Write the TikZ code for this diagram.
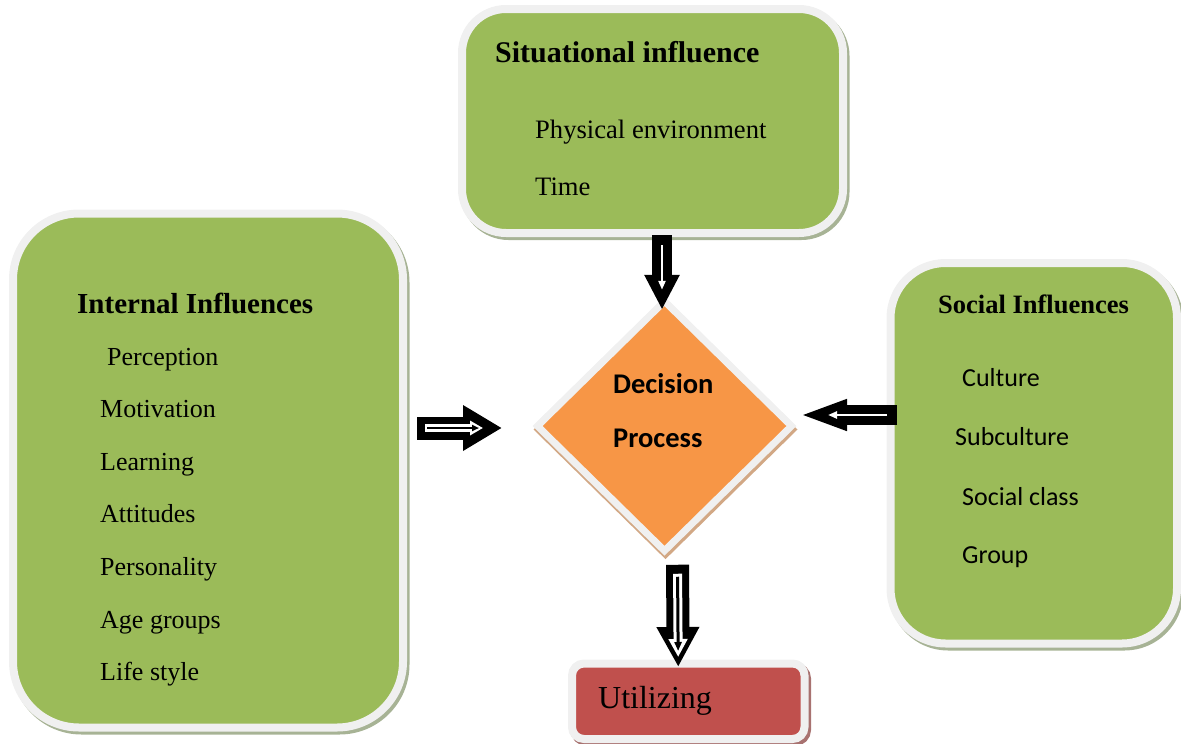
\documentclass[tikz,border=0pt]{standalone}
\usepackage{fontspec}
\setmainfont{Liberation Serif}
\newfontfamily\calibri{Carlito}
\usetikzlibrary{shapes.geometric,shadows,arrows.meta,calc}
\definecolor{boxgreen}{HTML}{9BBB59}
\definecolor{bordergray}{HTML}{F0F0F0}
\definecolor{shadowgreen}{HTML}{A7B395}
\definecolor{decorange}{HTML}{F79646}
\definecolor{shadowtan}{HTML}{D2A885}
\definecolor{utilred}{HTML}{C0504D}
\definecolor{shadowred}{HTML}{A87270}
\begin{document}
\begin{tikzpicture}[x=1pt,y=-1pt,
  gbox/.style={draw=bordergray, line width=8pt, fill=boxgreen, outer sep=0pt, inner sep=0pt,
    drop shadow={shadow xshift=2.5pt, shadow yshift=-3pt, fill=shadowgreen, draw=shadowgreen, line width=8pt, opacity=1}},
  dbox/.style={shape=diamond, draw=bordergray, line width=7pt, fill=decorange, outer sep=0pt, inner sep=0pt,
    drop shadow={shadow xshift=1pt, shadow yshift=-3.5pt, fill=shadowtan, draw=shadowtan, line width=7pt, opacity=1}},
  rbox/.style={draw=bordergray, line width=8pt, fill=utilred, outer sep=0pt, inner sep=0pt,
    drop shadow={shadow xshift=2.5pt, shadow yshift=-3pt, fill=shadowred, draw=shadowred, line width=8pt, opacity=1}},
  title/.style={anchor=base west, inner sep=0pt, font=\bfseries\fontsize{29}{32}\selectfont},
  item/.style={anchor=base west, inner sep=0pt, font=\fontsize{26}{30}\selectfont},
  citem/.style={anchor=base west, inner sep=0pt, font=\calibri\fontsize{26}{30}\selectfont},
  blk/.style n args={3}{draw=black, line width=#1, -{Triangle[width=#2, length=#3]}},
  wht/.style n args={3}{draw=white, line width=#1, -{Triangle[width=#2, length=#3]}},
]
\useasboundingbox (0,0) rectangle (1181,744);

% boxes
\node[gbox, rounded corners=44pt, minimum width=381pt, minimum height=224pt] (sit) at (652.5,121) {};
\node[gbox, rounded corners=66pt, minimum width=390pt, minimum height=514pt] (int) at (208,470.5) {};
\node[gbox, rounded corners=55pt, minimum width=286.5pt, minimum height=380.5pt] (soc) at (1033.75,453.25) {};
\node[dbox, minimum width=254pt, minimum height=249.5pt] (dec) at (664.5,426) {};
\node[rbox, rounded corners=12pt, minimum width=232.5pt, minimum height=75.5pt] (util) at (688.25,701.25) {};

% texts
\node[title, font=\bfseries\fontsize{30}{33}\selectfont] (sitT) at (495,62) {Situational influence};
\node[item, font=\fontsize{26.6}{30}\selectfont] (sit1) at (535,138) {Physical environment};
\node[item, font=\fontsize{26.6}{30}\selectfont] (sit2) at (535,195) {Time};

\node[title] (intT) at (77,313) {Internal Influences};
\node[item] (int1) at (107,365) {Perception};
\node[item] (int2) at (100,417) {Motivation};
\node[item] (int3) at (100,470) {Learning};
\node[item] (int4) at (100,522) {Attitudes};
\node[item] (int5) at (100,575) {Personality};
\node[item] (int6) at (100,628) {Age groups};
\node[item] (int7) at (100,680) {Life style};

\node[title, font=\bfseries\fontsize{26.5}{30}\selectfont] (socT) at (938,313) {Social Influences};
\node[citem] (soc1) at (962,386) {Culture};
\node[citem] (soc2) at (955,445) {Subculture};
\node[citem] (soc3) at (962,505) {Social class};
\node[citem] (soc4) at (962,563) {Group};

\node[anchor=base west, inner sep=0pt, font=\calibri\bfseries\fontsize{28.5}{32}\selectfont] (decT1) at (613,393) {Decision};
\node[anchor=base west, inner sep=0pt, font=\calibri\bfseries\fontsize{28.5}{32}\selectfont] (decT2) at (613,447) {Process};

\node[anchor=base west, inner sep=0pt, font=\fontsize{32}{36}\selectfont] (utilT) at (598,708) {Utilizing};

% connector end points
\coordinate (a1s) at ([xshift=-2.5pt,yshift=-2pt]dec.north |- sit.south);
\coordinate (a1e) at ([xshift=-2.5pt,yshift=-8.5pt]dec.north);
\coordinate (a2s) at ([xshift=14pt,yshift=-2pt]int.east |- dec.west);
\coordinate (a2e) at ([xshift=-35.5pt,yshift=-2pt]dec.west);
\coordinate (a3s) at ([xshift=6.5pt,yshift=11pt]soc.west |- dec.east);
\coordinate (a3e) at ([xshift=7.5pt,yshift=11pt]dec.east);
\coordinate (a4s) at ([xshift=13pt,yshift=-14pt]dec.south);
\coordinate (a4e) at ([xshift=-10pt,yshift=-3.5pt]util.north);

% arrow 1: situational -> decision
\draw[blk={20pt}{33pt}{35pt}] (a1s) -- (a1e);
\draw[wht={2.5pt}{7pt}{9pt}, shorten <=10pt, shorten >=20pt] (a1s) -- (a1e);
% arrow 2: internal -> decision
\draw[blk={23pt}{43pt}{39pt}] (a2s) -- (a2e);
\draw[wht={8pt}{14pt}{13pt}, shorten <=8pt, shorten >=19pt] (a2s) -- (a2e);
\draw[blk={2.5pt}{6pt}{7pt}, shorten <=10pt, shorten >=23pt] (a2s) -- (a2e);
% arrow 3: social -> decision
\draw[blk={20pt}{28pt}{48pt}] (a3s) -- (a3e);
\draw[wht={2.5pt}{7pt}{9pt}, shorten <=10pt, shorten >=29pt] (a3s) -- (a3e);
% arrow 4: decision -> utilizing
\draw[blk={23pt}{40pt}{40pt}] (a4s) -- (a4e);
\draw[wht={9pt}{18pt}{18pt}, shorten <=9pt, shorten >=10pt] (a4s) -- (a4e);
\draw[blk={3pt}{7pt}{9pt}, shorten <=12pt, shorten >=16pt] (a4s) -- (a4e);
\end{tikzpicture}
\end{document}
